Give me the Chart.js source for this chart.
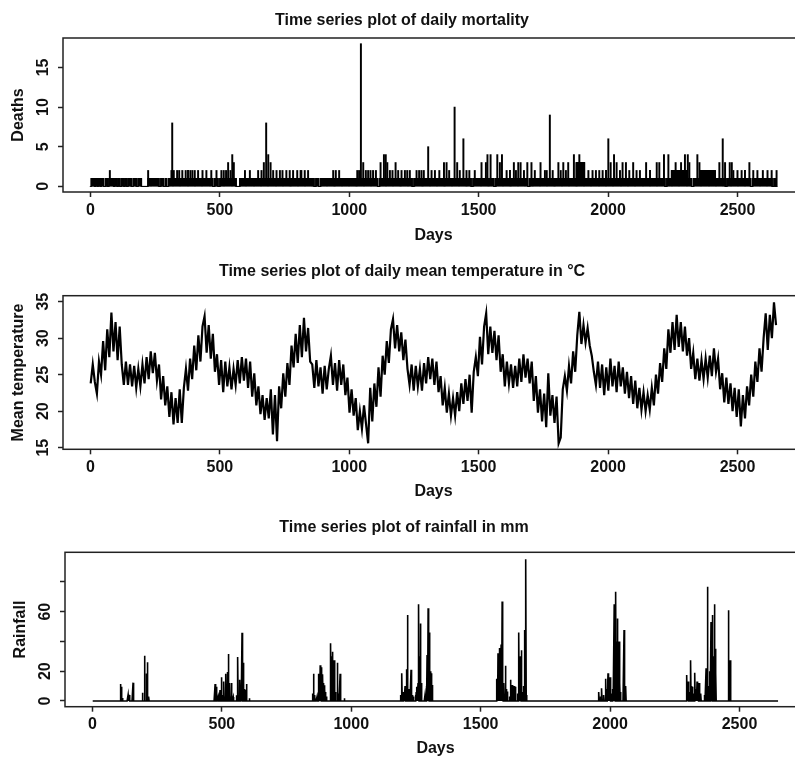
<!DOCTYPE html>
<html>
<head>
<meta charset="utf-8">
<title>Daily mortality, temperature and rainfall</title>
<script src="https://cdn.jsdelivr.net/npm/chart.js@4.4.1/dist/chart.umd.min.js"></script>
<style>
    html, body { margin: 0; padding: 0; background: #fff; overflow: hidden; width: 795px; height: 757px; }
    canvas { position: absolute; }
    #mortality { top: 0; left: 0; }
    #temperature { top: 250px; left: 0; }
    #rainfall { top: 507px; left: 2px; }
</style>
</head>
<body>
<canvas id="mortality" width="810" height="250"></canvas>
<canvas id="temperature" width="810" height="257"></canvas>
<canvas id="rainfall" width="810" height="257"></canvas>
<script>
// shared day axis
const dayTicks = [0, 500, 1000, 1500, 2000, 2500];
const dayRange = [-106, 2757];
const seriesLength = 2652;

// daily deaths: runs of a base level, zero stretches, and single days above the base
const deathTicks = [0, 5, 10, 15];
const deathRuns = [
    [4, 15, 1], [21, 26, 1], [31, 37, 1], [43, 50, 1], [59, 64, 1], [72, 89, 1], [95, 102, 1],
    [108, 113, 1], [121, 128, 1], [134, 139, 1], [146, 157, 1], [166, 177, 1], [185, 196, 1],
    [223, 2645, 1],
    [1878, 1908, 3], [2246, 2304, 2], [2355, 2413, 2]
];
const deathGaps = [
    [265, 272], [282, 289], [294, 301], [473, 480], [493, 500], [563, 577], [864, 871], [882, 889],
    [1110, 1117], [1243, 1250], [1471, 1478], [1559, 1566], [1690, 1697], [2220, 2227], [2323, 2330],
    [2452, 2459], [2551, 2558], [2634, 2641]
];
const deathSpikes = [
    [75, 2], [223, 2],
    [313, 2], [316, 8], [322, 2], [335, 2], [343, 2], [355, 2], [368, 2], [377, 2], [386, 2], [394, 2],
    [403, 2], [416, 2], [433, 2], [448, 2], [467, 2], [487, 2],
    [506, 2], [515, 2], [524, 2], [532, 3], [541, 2], [548, 4], [554, 3],
    [597, 2], [616, 2], [648, 2], [661, 2], [670, 3], [679, 8], [687, 4], [696, 3], [706, 2], [719, 2],
    [732, 2], [742, 2], [757, 2], [770, 2], [783, 2], [799, 2], [812, 2], [815, 2], [828, 2], [841, 2],
    [938, 2], [948, 2], [961, 2], [1031, 2], [1038, 2], [1045, 18], [1054, 3], [1064, 2], [1073, 2],
    [1082, 2], [1092, 2], [1103, 2],
    [1121, 3], [1134, 4], [1141, 4], [1147, 3], [1157, 2], [1167, 2], [1179, 3], [1189, 2], [1202, 2],
    [1215, 2], [1224, 2], [1234, 2], [1260, 2], [1270, 2], [1279, 2], [1288, 2], [1305, 5],
    [1318, 2], [1331, 2], [1348, 2], [1366, 3], [1376, 3], [1386, 2], [1407, 10], [1417, 3], [1427, 2],
    [1441, 6], [1453, 2], [1464, 2], [1485, 2], [1511, 3], [1528, 3], [1534, 4], [1546, 4], [1572, 4],
    [1582, 3], [1590, 4], [1608, 2], [1621, 2], [1636, 3], [1644, 2], [1653, 3], [1662, 3], [1675, 2],
    [1688, 3], [1704, 3], [1717, 2], [1739, 3], [1756, 2],
    [1763, 2], [1775, 9], [1786, 2], [1808, 3], [1817, 2], [1827, 3], [1837, 2], [1846, 3], [1868, 4],
    [1889, 4], [1924, 2], [1940, 2], [1953, 2], [1966, 2], [1979, 2], [1992, 2],
    [2001, 6], [2010, 3], [2023, 4], [2033, 3], [2046, 2], [2056, 3], [2069, 3], [2082, 2], [2097, 3],
    [2110, 2], [2123, 2], [2147, 3], [2162, 2], [2188, 3], [2198, 3], [2216, 4], [2233, 4],
    [2261, 3], [2282, 3], [2297, 4], [2308, 4], [2314, 3], [2345, 4], [2353, 3], [2430, 3], [2443, 6],
    [2452, 3], [2470, 3], [2478, 3], [2484, 2], [2500, 2], [2516, 2], [2529, 2], [2546, 3], [2561, 2],
    [2577, 2], [2598, 2], [2616, 2], [2632, 2], [2651, 2]
];

// mean temperature, one reading every tempStep days from tempFirstDay
const tempTicks = [15, 20, 25, 30, 35];
const tempFirstDay = 1;
const tempStep = 8;
const tempValues = [
    23.8, 26.4, 24.0, 22.4, 26.8, 25.0, 29.6, 25.6,
    31.2, 27.4, 33.5, 28.2, 32.2, 27.0, 31.6, 26.4,
    23.6, 26.8, 23.6, 26.4, 23.4, 26.2, 23.2, 25.8,
    23.4, 26.4, 23.8, 27.4, 24.4, 28.2, 25.2, 28.0,
    24.2, 26.4, 21.6, 24.8, 20.8, 23.4, 19.2, 22.6,
    18.2, 21.8, 18.4, 23.0, 18.4, 23.2, 25.8, 22.8,
    27.2, 24.4, 29.0, 25.6, 30.4, 26.8, 31.6, 33.0,
    28.0, 31.8, 27.2, 30.6, 25.4, 27.8, 23.6, 27.0,
    22.6, 26.8, 23.4, 26.0, 23.0, 25.8, 23.6, 27.0,
    23.8, 27.4, 24.2, 27.2, 23.2, 26.8, 22.0, 25.2,
    20.8, 23.4, 19.6, 22.2, 18.8, 21.8, 19.0, 23.0,
    16.8, 22.2, 15.9, 23.4, 20.4, 25.2, 22.0, 26.6,
    23.6, 29.0, 26.0, 30.6, 26.6, 31.8, 27.4, 32.8,
    28.2, 31.4, 26.8, 26.4, 23.2, 27.0, 23.4, 26.0,
    22.4, 26.2, 23.0, 25.8, 27.6, 23.6, 26.6, 22.8,
    27.0, 23.6, 26.4, 22.2, 24.6, 19.8, 23.0, 19.4,
    21.8, 17.4, 20.0, 17.6, 20.8, 18.2, 15.6, 23.2,
    18.6, 23.8, 20.6, 26.0, 22.0, 27.6, 25.0, 29.6,
    26.6, 31.2, 32.6, 28.6, 31.8, 28.2, 30.8, 27.0,
    29.8, 25.8, 23.6, 26.4, 22.8, 26.2, 23.4, 25.8,
    22.8, 26.6, 23.8, 27.4, 24.4, 27.2, 23.6, 26.8,
    22.6, 24.8, 20.8, 23.2, 19.8, 22.4, 19.4, 21.8,
    19.4, 22.6, 20.0, 23.8, 21.0, 24.4, 21.4, 25.0,
    19.8, 25.4, 27.4, 24.8, 30.2, 26.4, 31.6, 33.4,
    27.8, 31.6, 28.0, 31.0, 27.0, 30.4, 25.4, 27.8,
    23.4, 26.8, 23.8, 26.4, 23.2, 26.2, 23.4, 27.2,
    24.0, 27.8, 24.6, 27.2, 23.8, 26.8, 21.4, 24.8,
    19.8, 23.0, 18.6, 22.4, 17.8, 25.2, 19.4, 22.2,
    18.4, 22.0, 15.6, 16.4, 23.0, 24.8, 22.8, 26.2,
    23.8, 28.2, 25.4, 30.4, 33.6, 29.2, 31.8, 29.4,
    31.4, 29.0, 27.6, 25.4, 23.6, 26.8, 23.2, 26.4,
    22.2, 26.0, 22.8, 27.2, 23.4, 26.2, 22.6, 26.8,
    23.4, 26.0, 22.4, 25.4, 21.8, 24.8, 21.0, 24.2,
    20.4, 23.2, 20.2, 22.6, 20.0, 22.2, 20.2, 23.2,
    20.8, 25.0, 22.4, 26.6, 24.0, 28.6, 25.8, 31.2,
    28.0, 32.2, 28.4, 33.2, 28.8, 32.2, 28.2, 31.6,
    27.6, 30.0, 25.8, 28.0, 24.4, 27.2, 24.2, 27.0,
    24.4, 27.2, 24.6, 27.6, 24.8, 28.6, 25.4, 27.2,
    23.0, 25.2, 21.2, 24.6, 21.0, 23.8, 20.0, 23.2,
    19.2, 23.0, 17.9, 22.2, 19.0, 23.4, 20.8, 25.0,
    22.0, 26.8, 24.0, 28.6, 25.4, 30.0, 33.4, 28.4,
    33.2, 30.0, 34.9, 31.8
];

// rainy days: [day, mm]; every other day is dry
const rainTicks = [0, 20, 40, 60, 80];
const rainTickLabels = ['0', '20', '', '60', ''];
const rainEvents = [
    [108, 11.4], [113, 9.6], [117, 2], [138, 4.3], [142, 4], [157, 12.3], [194, 5.6], [202, 30.4],
    [208, 18.4], [213, 26], [218, 3],
    [474, 11.4], [480, 9.6], [486, 3], [493, 7.4], [499, 15.9], [504, 4], [508, 13], [512, 3],
    [516, 18.3], [521, 19.4], [526, 31.5], [531, 12], [535, 3], [538, 12], [544, 2.7], [557, 3.8],
    [562, 29.5], [566, 4], [570, 14.3], [574, 6], [578, 45.8], [583, 25.6], [587, 8], [590, 7.4],
    [596, 11.4], [607, 1.8],
    [851, 5], [854, 18.3], [859, 4], [868, 3], [873, 18.3], [876, 10], [880, 24], [883, 20],
    [885, 22.7], [888, 15], [890, 18], [893, 12], [895, 10.5], [898, 8], [900, 6], [905, 3],
    [921, 38.7], [925, 30], [928, 33], [931, 20], [934, 27.3], [940, 6], [947, 25.6], [951, 5],
    [957, 18.3], [973, 1.8],
    [1190, 4], [1196, 18.6], [1203, 6], [1208, 10], [1213, 21.3], [1218, 57.7], [1224, 8], [1231, 21],
    [1236, 4], [1241, 3], [1248, 4], [1251, 6], [1254, 9.6], [1258, 12], [1261, 64.9], [1264, 30],
    [1267, 52], [1272, 12], [1285, 4], [1290, 10], [1293, 30.9], [1297, 62.2], [1300, 35], [1303, 46],
    [1306, 20], [1309, 18.6], [1314, 10.7],
    [1561, 15], [1564, 8], [1567, 32], [1571, 20], [1574, 35.5], [1579, 38], [1583, 66.8], [1586, 10],
    [1590, 12], [1596, 23.6], [1600, 8], [1603, 6.3], [1612, 3], [1616, 14.3], [1619, 8], [1622, 10.7],
    [1626, 4], [1629, 10], [1635, 9.6], [1642, 5], [1648, 46], [1652, 25.6], [1655, 30], [1657, 34],
    [1661, 6], [1666, 10], [1670, 47.7], [1675, 95.1], [1678, 4],
    [1957, 6], [1963, 3], [1968, 8.5], [1976, 4], [1983, 15], [1987, 8], [1992, 18.6], [1996, 10],
    [2000, 16], [2005, 5], [2011, 8], [2016, 65], [2019, 50], [2022, 73.4], [2026, 40], [2029, 55.4],
    [2032, 30], [2035, 40], [2038, 12], [2041, 6], [2054, 47.7], [2061, 10],
    [2297, 17.5], [2302, 13], [2307, 6], [2312, 27.3], [2316, 10], [2319, 9.6], [2324, 5], [2328, 19],
    [2332, 8], [2336, 13], [2340, 12], [2345, 12], [2351, 5], [2365, 4], [2371, 22], [2377, 76.7],
    [2381, 10], [2385, 20], [2390, 53], [2393, 40], [2396, 57.7], [2400, 30], [2403, 65], [2406, 35],
    [2409, 19], [2457, 61], [2464, 27.3]
];

const FONT = '"Liberation Sans", Arial, Helvetica, sans-serif';
const INK = '#111';
const LINE = '#222';
const CANVAS_WIDTH = 810;
const BOX_RIGHT = 804;
const BOX_LEFT = 63;

function dailyDeaths() {
    const deaths = new Array(seriesLength + 1).fill(0);
    deathRuns.forEach(([from, to, level]) => {
        for (let d = from; d <= to; d++) deaths[d] = level;
    });
    deathGaps.forEach(([from, to]) => {
        for (let d = from; d <= to; d++) deaths[d] = 0;
    });
    deathSpikes.forEach(([day, count]) => { deaths[day] = count; });
    return deaths.slice(1).map((v, i) => ({ x: i + 1, y: v }));
}

function dailyRain() {
    const rain = new Array(seriesLength + 1).fill(0);
    rainEvents.forEach(([day, mm]) => { rain[day] = mm; });
    return rain.slice(1).map((v, i) => ({ x: i + 1, y: v }));
}

function temperaturePoints() {
    return tempValues.map((v, i) => ({ x: tempFirstDay + i * tempStep, y: v }));
}

// R style frame round the plotting region
const plotBox = {
    id: 'plotBox',
    afterDraw(chart) {
        const { ctx, chartArea: a } = chart;
        ctx.save();
        ctx.strokeStyle = LINE;
        ctx.lineWidth = 1.5;
        ctx.strokeRect(a.left, a.top, a.right - a.left, a.bottom - a.top);
        ctx.restore();
    }
};

function font(size) {
    return { family: FONT, size: size, weight: 'bold', lineHeight: 1.2 };
}

function tickGrid() {
    return {
        display: true,
        drawOnChartArea: false,
        drawTicks: true,
        tickLength: 5,
        tickWidth: 1.5,
        tickColor: LINE,
        offset: false
    };
}

function panelOptions(p) {
    const half = 16 * 1.2 / 2;
    return {
        responsive: false,
        animation: false,
        devicePixelRatio: 1,
        layout: { padding: { left: 0, right: CANVAS_WIDTH - BOX_RIGHT, top: 0, bottom: 0 } },
        plugins: {
            legend: { display: false },
            tooltip: { enabled: false },
            title: {
                display: true,
                text: p.title,
                color: INK,
                font: font(16),
                padding: { top: p.titleY - half, bottom: p.areaTop - p.titleY - half }
            }
        },
        scales: {
            x: {
                type: 'linear',
                min: dayRange[0],
                max: dayRange[1],
                offset: false,
                afterBuildTicks: s => { s.ticks = dayTicks.map(v => ({ value: v })); },
                afterFit: s => { s.height = p.height - p.areaBottom; },
                grid: tickGrid(),
                border: { display: false },
                ticks: { color: INK, font: font(16), padding: 3.5, autoSkip: false, maxRotation: 0, callback: v => String(v) },
                title: { display: true, text: 'Days', color: INK, font: font(16), padding: { top: 0, bottom: p.height - p.daysY - half } }
            },
            y: {
                min: p.yRange[0],
                max: p.yRange[1],
                afterBuildTicks: s => { s.ticks = p.yTicks.map(v => ({ value: v })); },
                afterFit: s => { s.width = BOX_LEFT; },
                grid: tickGrid(),
                border: { display: false },
                ticks: {
                    color: INK, font: font(16), padding: 5.5, autoSkip: false,
                    minRotation: 90, maxRotation: 90, crossAlign: 'center',
                    callback: p.yLabel
                },
                title: { display: true, text: p.yTitle, color: INK, font: font(16), padding: { top: 8.7, bottom: 0 } }
            }
        }
    };
}

new Chart(document.getElementById('mortality'), {
    type: 'bar',
    data: {
        datasets: [{
            label: 'Deaths',
            data: dailyDeaths(),
            backgroundColor: '#000',
            borderWidth: 0,
            barThickness: 1.3
        }]
    },
    options: panelOptions({
        title: 'Time series plot of daily mortality',
        yTitle: 'Deaths',
        height: 250, areaTop: 38, areaBottom: 192, titleY: 21, daysY: 235.5,
        yRange: [-0.72, 18.72], yTicks: deathTicks,
        yLabel: v => String(v)
    }),
    plugins: [plotBox]
});

new Chart(document.getElementById('temperature'), {
    type: 'line',
    data: {
        datasets: [{
            label: 'Mean temperature',
            data: temperaturePoints(),
            borderColor: '#000',
            borderWidth: 2.2,
            borderJoinStyle: 'miter',
            pointRadius: 0,
            tension: 0
        }]
    },
    options: panelOptions({
        title: 'Time series plot of daily mean temperature in °C',
        yTitle: 'Mean temperature',
        height: 257, areaTop: 45.7, areaBottom: 199.3, titleY: 21.5, daysY: 242,
        yRange: [14.78, 35.82], yTicks: tempTicks,
        yLabel: v => String(v)
    }),
    plugins: [plotBox]
});

new Chart(document.getElementById('rainfall'), {
    type: 'line',
    data: {
        datasets: [{
            label: 'Rainfall',
            data: dailyRain(),
            borderColor: '#000',
            borderWidth: 1.6,
            pointRadius: 0,
            tension: 0
        }]
    },
    options: panelOptions({
        title: 'Time series plot of rainfall in mm',
        yTitle: 'Rainfall',
        height: 257, areaTop: 45.3, areaBottom: 199.7, titleY: 20.5, daysY: 242,
        yRange: [-3.84, 99.84], yTicks: rainTicks,
        yLabel: v => rainTickLabels[rainTicks.indexOf(v)]
    }),
    plugins: [plotBox]
});
</script>
</body>
</html>
